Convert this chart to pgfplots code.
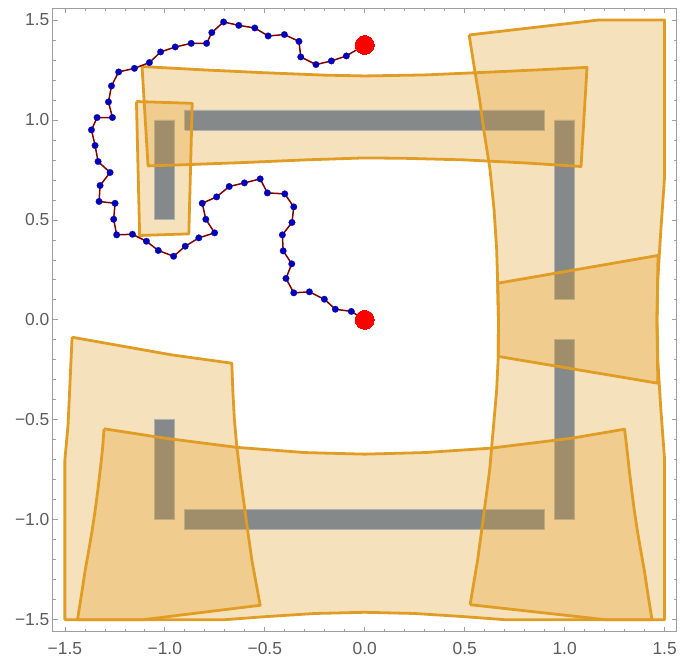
\documentclass[border=0pt]{standalone}
\usepackage{pgfplots}
\pgfplotsset{compat=1.18}
\usepackage{fontspec}
\setmainfont{Liberation Sans}
\definecolor{mOrange}{rgb}{0.880722,0.611041,0.142051}
\definecolor{lblgray}{rgb}{0.36,0.36,0.36}
\definecolor{framegray}{rgb}{0.62,0.62,0.62}
\definecolor{obsblue}{rgb}{0.368417,0.506779,0.709798}
\definecolor{obsedge}{RGB}{154,187,234}
\definecolor{pathred}{rgb}{0.5,0,0}
\definecolor{dotblue}{rgb}{0,0,0.72}
\begin{document}
\begin{tikzpicture}
\begin{axis}[name=ax,
  width=625bp, height=625bp, scale only axis,
  xmin=-1.56, xmax=1.56, ymin=-1.56, ymax=1.56,
  xtick={-1.5,-1,-0.5,0,0.5,1,1.5},
  ytick={-1.5,-1,-0.5,0,0.5,1,1.5},
  xticklabels={−1.5,−1.0,−0.5,0.0,0.5,1.0,1.5},
  yticklabels={−1.5,−1.0,−0.5,0.0,0.5,1.0,1.5},
  minor tick num=4,
  tick align=inside,
  major tick length=5bp, minor tick length=3bp,
  axis line style={color=framegray, line width=0.9bp},
  every tick/.style={color=framegray, line width=0.7bp},
  ticklabel style={font=\fontsize{17.5}{20}\selectfont, text=lblgray},
  xticklabel style={yshift=-7bp},
]
% obstacles
\pgfplotsset{obs/.style={fill=obsblue, draw=obsedge, line width=0.8bp}}
\addplot[obs] coordinates {(-0.9,0.95) (0.9,0.95) (0.9,1.05) (-0.9,1.05) (-0.9,0.95)};
\addplot[obs] coordinates {(-1.05,0.5) (-0.95,0.5) (-0.95,1.0) (-1.05,1.0) (-1.05,0.5)};
\addplot[obs] coordinates {(0.95,0.1) (1.05,0.1) (1.05,1.0) (0.95,1.0) (0.95,0.1)};
\addplot[obs] coordinates {(0.95,-1.0) (1.05,-1.0) (1.05,-0.1) (0.95,-0.1) (0.95,-1.0)};
\addplot[obs] coordinates {(-0.9,-1.05) (0.9,-1.05) (0.9,-0.95) (-0.9,-0.95) (-0.9,-1.05)};
\addplot[obs] coordinates {(-1.05,-1.0) (-0.95,-1.0) (-0.95,-0.5) (-1.05,-0.5) (-1.05,-1.0)};
% regions
\pgfplotsset{region/.style={draw=mOrange, line width=2.8bp, fill=mOrange, fill opacity=0.3, draw opacity=1, line join=round}}
% A top band
\addplot[region] coordinates {(-1.114,1.267) (-0.8,1.25) (-0.5,1.236) (-0.2,1.224) (0,1.22) (0.3,1.225) (0.6,1.238) (0.9,1.252) (1.112,1.263)
 (1.082,0.767) (0.8,0.785) (0.5,0.8) (0.2,0.808) (0,0.81) (-0.3,0.8) (-0.6,0.787) (-0.9,0.776) (-1.084,0.77) (-1.114,1.267)};
% B small top-left
\addplot[region] coordinates {(-1.142,1.092) (-0.863,1.083) (-0.88,0.43) (-1.126,0.422) (-1.142,1.092)};
% C upper right
\addplot[region] coordinates {(0.522,1.425) (1.171,1.5) (1.5,1.5) (1.5,0.717) (1.48,0.43) (1.466,0.2) (1.462,0) (1.466,-0.317)
 (0.668,-0.183) (0.669,0) (0.665,0.183) (0.66,0.35) (0.647,0.55) (0.627,0.75) (0.597,0.94) (0.575,1.1) (0.55,1.25) (0.522,1.425)};
% D lower right
\addplot[region] coordinates {(0.527,-1.425) (1.204,-1.5) (1.5,-1.5) (1.5,-0.7) (1.48,-0.43) (1.466,-0.2) (1.462,0) (1.467,0.322)
 (0.665,0.183) (0.669,0) (0.668,-0.183) (0.66,-0.35) (0.647,-0.5) (0.625,-0.75) (0.592,-1.0) (0.565,-1.2) (0.527,-1.425)};
% E bottom band
\addplot[region] coordinates {(-1.304,-0.545) (-1.0,-0.592) (-0.64,-0.638) (-0.3,-0.664) (0,-0.672) (0.3,-0.664) (0.63,-0.642) (1.037,-0.592) (1.30,-0.547)
 (1.312,-0.65) (1.323,-0.75) (1.335,-0.85) (1.348,-0.95) (1.363,-1.05) (1.38,-1.15) (1.398,-1.25) (1.417,-1.375) (1.437,-1.5)
 (0.7,-1.5) (0.5,-1.485) (0.25,-1.469) (0,-1.463) (-0.25,-1.469) (-0.5,-1.485) (-0.7,-1.5)
 (-1.437,-1.5) (-1.417,-1.375) (-1.398,-1.25) (-1.38,-1.15) (-1.363,-1.05) (-1.348,-0.95) (-1.335,-0.85) (-1.323,-0.75) (-1.312,-0.65) (-1.304,-0.545)};
% F bottom left
\addplot[region] coordinates {(-1.464,-0.087) (-0.968,-0.175) (-0.665,-0.217) (-0.66,-0.35) (-0.652,-0.5) (-0.64,-0.633) (-0.62,-0.8) (-0.593,-1.0) (-0.565,-1.2) (-0.523,-1.428)
 (-1.109,-1.5) (-1.5,-1.5) (-1.5,-0.7) (-1.484,-0.525) (-1.464,-0.087)};
% path
\addplot[pathred, line width=1.5bp, mark=*, mark size=3.3bp, mark options={draw=dotblue, fill=dotblue, line width=0.2bp}] coordinates {
(0,0) (-0.067,0.042) (-0.147,0.053) (-0.202,0.103) (-0.277,0.140) (-0.355,0.135) (-0.394,0.207) (-0.365,0.280)
(-0.408,0.345) (-0.412,0.425) (-0.364,0.487) (-0.355,0.565) (-0.400,0.630) (-0.487,0.635) (-0.523,0.705)
(-0.602,0.685) (-0.678,0.667) (-0.741,0.615) (-0.813,0.583) (-0.795,0.503) (-0.751,0.435) (-0.830,0.410)
(-0.898,0.368) (-0.956,0.318) (-1.033,0.347) (-1.092,0.393) (-1.162,0.428) (-1.241,0.425) (-1.256,0.503)
(-1.249,0.583) (-1.329,0.592) (-1.324,0.672) (-1.274,0.737) (-1.334,0.792) (-1.349,0.872) (-1.367,0.950)
(-1.339,1.012) (-1.262,1.012) (-1.282,1.090) (-1.267,1.170) (-1.231,1.240) (-1.152,1.258) (-1.077,1.287)
(-1.021,1.340) (-0.948,1.365) (-0.868,1.383) (-0.791,1.383) (-0.765,1.437) (-0.706,1.490) (-0.630,1.473)
(-0.550,1.460) (-0.483,1.420) (-0.402,1.427) (-0.329,1.393) (-0.320,1.315) (-0.244,1.277) (-0.167,1.295)
(-0.092,1.320) (0,1.375)};
% endpoints
\addplot[only marks, color=red, mark=*, mark size=9.5bp, mark options={draw=red, fill=red, line width=0pt}] coordinates {(0,0) (0,1.375)};
\end{axis}
\path (ax.south west) ++(-53bp,-28bp) coordinate (bbA);
\path (ax.north east) ++(2bp,8bp) coordinate (bbB);
\path[use as bounding box] (bbA) rectangle (bbB);
\end{tikzpicture}
\end{document}
